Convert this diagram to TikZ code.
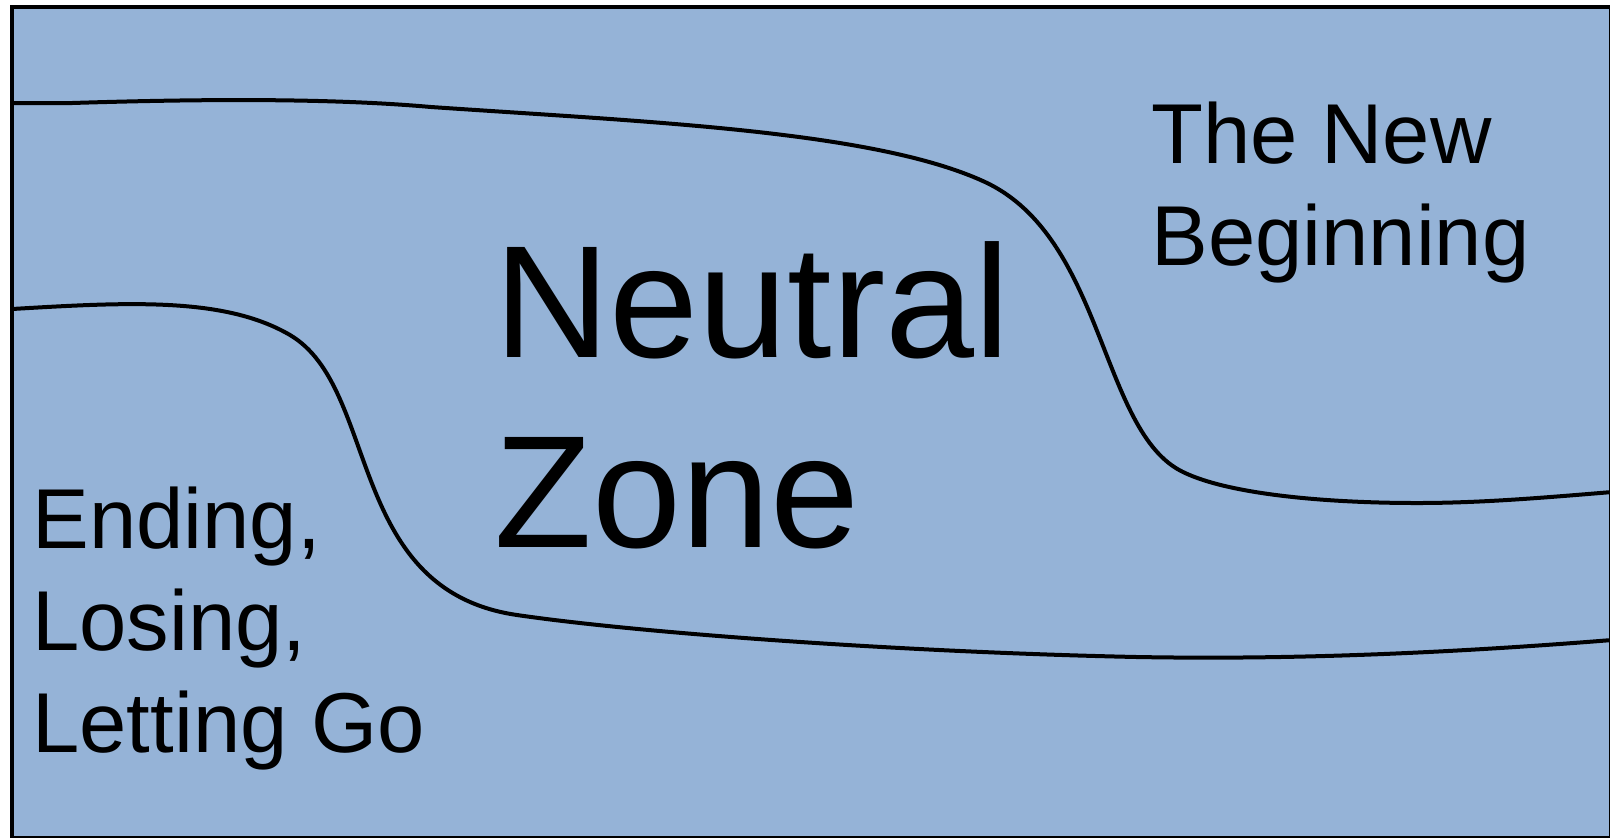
\documentclass[tikz,border=0pt]{standalone}
\usepackage{fontspec}
\setmainfont{Liberation Sans}
\definecolor{zonefill}{RGB}{149,179,215}
\begin{document}
\begin{tikzpicture}[x=0.5pt,y=-0.5pt,
  frameline/.style={draw=black,line width=2.3pt,fill=zonefill},
  boundary/.style={draw=black,line width=2pt,line join=round},
  bigtext/.style={anchor=base west,inner sep=0pt,align=left,font=\fontsize{80}{95}\selectfont},
  smalltext/.style={anchor=base west,inner sep=0pt,align=left,font=\fontsize{42.5}{51}\selectfont}]
\useasboundingbox (0,0) rectangle (1610,837);
\clip (0,0) rectangle (1610,837);
\fill[white] (0,0) rectangle (1610,837);
\path[frameline] (12,7) rectangle (1611.5,838.5);
% upper boundary
\draw[boundary] (12,103) -- (72,103)
  .. controls (200,99) and (330,98) .. (431,107)
  .. controls (650,122) and (875,131) .. (985,182)
  .. controls (1105,238) and (1100,432) .. (1183,472)
  .. controls (1230,495) and (1330,503) .. (1417,503)
  .. controls (1480,503) and (1540,498) .. (1612,492);
% lower boundary
\draw[boundary] (12,309)
  .. controls (130,302) and (225,297) .. (290,335)
  .. controls (380,388) and (345,590) .. (517,615)
  .. controls (640,633) and (900,652) .. (1137,657)
  .. controls (1250,659) and (1400,657) .. (1612,640);
\node[bigtext] (neutral) at (494,547) {Neutral\\Zone};
\node[smalltext] (newbeg) at (1151,265) {The New\\Beginning};
\node[smalltext] (ending) at (32,752) {Ending,\\Losing,\\Letting Go};
\end{tikzpicture}
\end{document}
